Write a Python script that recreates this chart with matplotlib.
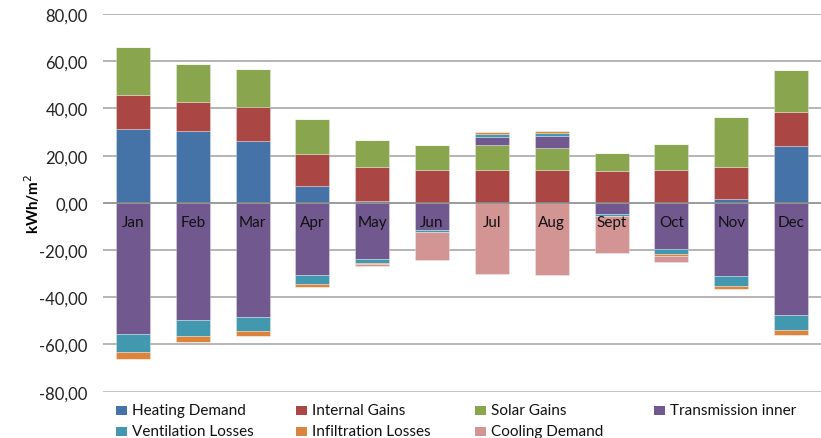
import matplotlib
matplotlib.use("Agg")
import matplotlib.pyplot as plt
import numpy as np
from matplotlib.patches import Rectangle

months = ["Jan", "Feb", "Mar", "Apr", "May", "Jun", "Jul", "Aug", "Sept", "Oct", "Nov", "Dec"]

heating      = [31.3, 30.4, 26.4, 7.1, 0.8, 0.0, 0.0, 0.0, 0.0, 0.0, 1.6, 24.2]
internal     = [14.2, 12.5, 14.1, 13.8, 14.2, 13.8, 14.0, 13.8, 13.7, 13.8, 13.5, 14.1]
solar        = [20.5, 15.9, 16.1, 14.7, 11.6, 10.5, 10.6, 9.5, 7.3, 11.2, 21.3, 17.8]
transmission = [-55.5, -49.6, -48.3, -30.6, -23.7, -11.6, 3.1, 5.2, -4.7, -19.5, -30.8, -47.5]
ventilation  = [-7.8, -6.8, -5.9, -3.6, -1.6, -0.8, 1.5, 1.3, -0.7, -2.1, -4.5, -6.2]
infiltration = [-2.8, -2.4, -2.2, -1.5, -0.8, 0.0, 0.9, 0.7, 0.0, -0.9, -1.1, -2.1]
cooling      = [0.0, 0.0, 0.0, 0.0, -0.6, -11.9, -30.2, -30.5, -15.8, -2.6, 0.0, 0.0]

series_names = ["Heating Demand", "Internal Gains", "Solar Gains", "Transmission inner",
                "Ventilation Losses", "Infiltration Losses", "Cooling Demand"]
series_vals = [heating, internal, solar, transmission, ventilation, infiltration, cooling]
colors = ["#4572A7", "#AA4643", "#89A54E", "#71588F", "#4198AF", "#DB843D", "#D39494"]

yticks = [-80, -60, -40, -20, 0, 20, 40, 60, 80]

plt.rcParams['font.family'] = ['Lato', 'DejaVu Sans']

W, H = 821, 439
fig = plt.figure(figsize=(W / 100, H / 100), dpi=100)
ax = fig.add_axes([0.1255, 0.1055, 0.8745, 0.8603])

x = np.arange(len(months))
pos_base = np.zeros(len(months))
neg_base = np.zeros(len(months))
for name, vals, c in zip(series_names, series_vals, colors):
    v = np.array(vals, dtype=float)
    pos = np.where(v > 0, v, 0)
    neg = np.where(v < 0, v, 0)
    ax.bar(x, pos, bottom=pos_base, width=0.57, color=c, edgecolor=(1, 1, 1, 0.35),
           linewidth=0.6, zorder=3)
    ax.bar(x, neg, bottom=neg_base, width=0.57, color=c, edgecolor=(1, 1, 1, 0.35),
           linewidth=0.6, zorder=3)
    pos_base += pos
    neg_base += neg

ax.set_xlim(-0.5, len(months) - 0.5)
ax.set_ylim(-80, 80)
ax.set_yticks(yticks)
ax.set_yticklabels([f"{t:.2f}".replace(".", ",") for t in yticks], fontsize=12, color="#222222")
ax.tick_params(axis='y', length=0, pad=11)
ax.set_xticks([])
for s in ax.spines.values():
    s.set_visible(False)
for t in yticks:
    if t == 0:
        ax.axhline(t, color="#8a8a8a", lw=1.2, zorder=4)
    elif t == -80:
        ax.axhline(t, color="#c0c0c0", lw=2.0, zorder=1)
    else:
        ax.axhline(t, color="#a8a8a8", lw=1.2, zorder=1)

for xi, m in zip(x, months):
    ax.text(xi, -8, m, ha="center", va="center", fontsize=11, color="#111111", zorder=5)

ax.set_ylabel("kWh/m$^2$", fontsize=11, fontweight="bold", labelpad=6)
ax.yaxis.set_label_coords(-0.085, 0.5)

# manual legend, row-major 4 columns
col_x = [116, 296, 475, 654]
row_y = [411, 432]
for i, (name, c) in enumerate(zip(series_names, colors)):
    r, k = divmod(i, 4)
    px, py = col_x[k], row_y[r]
    fig.patches.append(Rectangle((px / W, 1 - (py + 4.5) / H), 10.5 / W, 9 / H,
                                 transform=fig.transFigure, facecolor=c,
                                 edgecolor="none", figure=fig))
    fig.text((px + 15.5) / W, 1 - py / H, name, ha="left", va="center",
             fontsize=11, color="#111111")

fig.savefig("out.png", dpi=100)
